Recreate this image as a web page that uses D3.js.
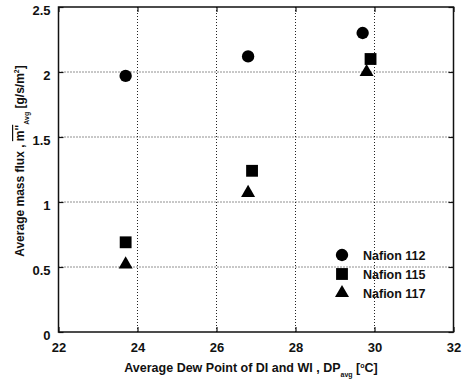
<!DOCTYPE html>
<html><head><meta charset="utf-8">
<script src="https://cdn.jsdelivr.net/npm/d3@7"></script>
<style>body{margin:0;background:#fff}svg{display:block}text{font-family:"Liberation Sans",Arial,sans-serif;font-weight:bold;fill:#111}</style>
</head><body><svg id="c" width="463" height="383"></svg>
<script>
const xTicks=[22,24,26,28,30,32];
const yTicks=[0,0.5,1,1.5,2,2.5];
const seriesNames=["Nafion 112","Nafion 115","Nafion 117"];
const seriesShapes=["circle","square","triangle"];
const nafion112X=[23.70,26.80,29.70], nafion112Y=[1.97,2.12,2.30];
const nafion115X=[23.70,26.90,29.90], nafion115Y=[0.69,1.24,2.10];
const nafion117X=[23.70,26.80,29.80], nafion117Y=[0.52,1.07,2.00];
const seriesX=[nafion112X,nafion115X,nafion117X];
const seriesY=[nafion112Y,nafion115Y,nafion117Y];

const svg=d3.select("#c");
const L=58.5,R=453.5,T=7,B=332;
const x=d3.scaleLinear().domain([22,32]).range([L,R]);
const y=d3.scaleLinear().domain([0,2.5]).range([B,T]);

// grid
const g=svg.append("g");
g.selectAll(".gx").data(xTicks.slice(1,-1)).join("line")
 .attr("x1",d=>x(d)).attr("x2",d=>x(d)).attr("y1",T).attr("y2",B)
 .attr("stroke","#222").attr("stroke-width",1).attr("stroke-dasharray","1,2");
g.selectAll(".gy").data(yTicks.slice(1,-1)).join("line")
 .attr("y1",d=>y(d)).attr("y2",d=>y(d)).attr("x1",L).attr("x2",R)
 .attr("stroke","#222").attr("stroke-width",1).attr("stroke-dasharray","1,2");

// axes with inward ticks
const ax=d3.axisBottom(x).tickValues(xTicks).tickSize(-5).tickPadding(11).tickFormat(d3.format("d"));
const axT=d3.axisTop(x).tickValues(xTicks).tickSize(-5).tickFormat("");
const ay=d3.axisLeft(y).tickValues(yTicks).tickSize(-5).tickPadding(8).tickFormat(d=>d===0?"0":d3.format("")(d));
const ayR=d3.axisRight(y).tickValues(yTicks).tickSize(-5).tickFormat("");
function style(sel){sel.attr("font-family",null).attr("font-size",null);sel.select(".domain").remove();sel.selectAll("line").attr("stroke","#111").attr("stroke-width",1.2);
 sel.selectAll("text").attr("font-size",13).attr("font-weight","bold").attr("fill","#111").attr("font-family","'Liberation Sans',Arial,sans-serif");}
svg.append("g").attr("transform",`translate(0,${B})`).call(ax).call(style);
svg.append("g").attr("transform",`translate(0,${T})`).call(axT).call(style);
svg.append("g").attr("transform",`translate(${L},0)`).call(ay).call(style).selectAll("text").attr("dy","0.6em");
svg.append("g").attr("transform",`translate(${R},0)`).call(ayR).call(style);

// frame
svg.append("rect").attr("x",L).attr("y",T).attr("width",R-L).attr("height",B-T)
 .attr("fill","none").attr("stroke","#111").attr("stroke-width",1.5);

// markers
const sym={circle:d3.symbol().type(d3.symbolCircle).size(120),
 square:d3.symbol().type(d3.symbolSquare).size(140),
 triangle:d3.symbol().type(d3.symbolTriangle).size(85)};
seriesX.forEach((xs,i)=>{
 svg.append("g").selectAll("path").data(xs.map((v,j)=>[v,seriesY[i][j]])).join("path")
  .attr("d",sym[seriesShapes[i]]).attr("fill","#000")
  .attr("transform",d=>`translate(${x(d[0])},${y(d[1])})`);
});

// legend
const lg=svg.append("g");
seriesNames.forEach((n,i)=>{
 const yy=255+i*19;
 lg.append("path").attr("d",sym[seriesShapes[i]]).attr("fill","#000").attr("transform",`translate(342,${yy})`);
 lg.append("text").attr("x",363).attr("y",yy+4.5).attr("font-size",12.5).text(n);
});

// x title
const xt=svg.append("text").attr("x",251).attr("y",372).attr("text-anchor","middle").attr("font-size",12.5);
xt.append("tspan").text("Average Dew Point of DI and WI , DP");
xt.append("tspan").attr("font-size",7).attr("dy",5).text("avg");
xt.append("tspan").attr("dy",-5).text(" [");
xt.append("tspan").attr("font-size",7).attr("dy",-4).text("o");
xt.append("tspan").attr("dy",4).text("C]");

// y title
const yt=svg.append("text").attr("transform","translate(24,161) rotate(-90)").attr("text-anchor","middle").attr("font-size",12);
yt.append("tspan").text("Average mass flux , ");
yt.append("tspan").attr("text-decoration","overline").text("m''");
yt.append("tspan").attr("font-size",7).attr("dy",5).text("Avg");
yt.append("tspan").attr("dy",-5).text(" [g/s/m");
yt.append("tspan").attr("font-size",7).attr("dy",-5).text("2");
yt.append("tspan").attr("dy",5).text("]");
</script></body></html>
